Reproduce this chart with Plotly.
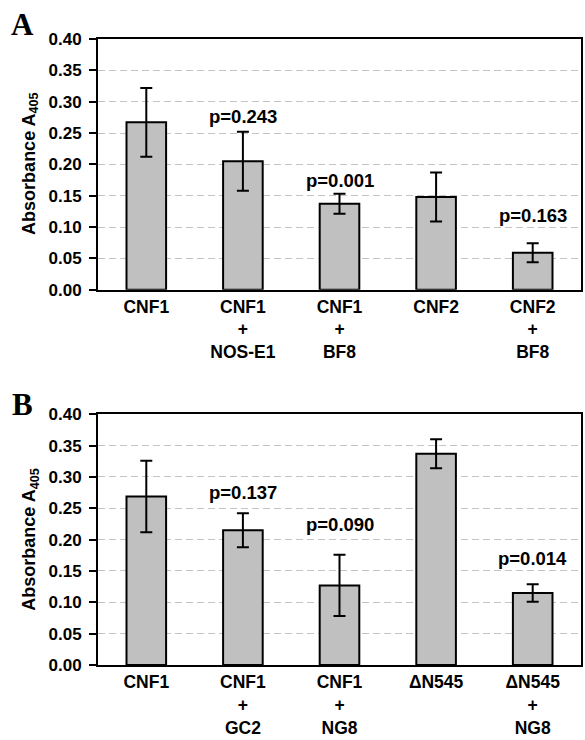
import plotly.graph_objects as go
from plotly.subplots import make_subplots

# ---- data ----
cats_a = ["CNF1", "CNF1<br>+<br>NOS-E1", "CNF1<br>+<br>BF8", "CNF2", "CNF2<br>+<br>BF8"]
vals_a = [0.267, 0.205, 0.137, 0.148, 0.059]
errs_a = [0.055, 0.047, 0.016, 0.039, 0.015]
p_idx_a = [1, 2, 4]
p_txt_a = ["p=0.243", "p=0.001", "p=0.163"]

cats_b = ["CNF1", "CNF1<br>+<br>GC2", "CNF1<br>+<br>NG8", "ΔN545", "ΔN545<br>+<br>NG8"]
vals_b = [0.269, 0.215, 0.127, 0.337, 0.115]
errs_b = [0.057, 0.027, 0.049, 0.023, 0.014]
p_idx_b = [1, 2, 4]
p_txt_b = ["p=0.137", "p=0.090", "p=0.014"]

yticks = [0.00, 0.05, 0.10, 0.15, 0.20, 0.25, 0.30, 0.35, 0.40]

# label vertical positions (layout)
p_pos_a = [0.277, 0.175, 0.118]
p_pos_b = [0.276, 0.224, 0.170]

FONT = "Liberation Sans, Arial, sans-serif"

fig = make_subplots(rows=2, cols=1, vertical_spacing=0.199)

def add_panel(row, cats, vals, errs):
    fig.add_trace(go.Bar(
        x=cats, y=vals, width=0.41,
        marker=dict(color="#c0c0c0", line=dict(color="black", width=2)),
        error_y=dict(type="data", array=errs, visible=True, color="black",
                     thickness=2, width=6),
        showlegend=False), row=row, col=1)

add_panel(1, cats_a, vals_a, errs_a)
add_panel(2, cats_b, vals_b, errs_b)

for r in (1, 2):
    fig.update_yaxes(range=[0, 0.4], tickvals=yticks, tickformat=".2f",
                     showline=True, linecolor="black", linewidth=2, mirror=True,
                     ticks="outside", ticklen=7, tickwidth=1.5, tickcolor="black",
                     ticklabelstandoff=4,
                     showgrid=True, gridcolor="#c4c4c4", griddash="7px,4px", gridwidth=1,
                     zeroline=False,
                     tickfont=dict(family=FONT, size=17, color="black", weight="bold"),
                     row=r, col=1)
    fig.update_xaxes(showline=True, linecolor="black", linewidth=2, mirror=True,
                     ticks="", showgrid=False,
                     tickfont=dict(family=FONT, size=17.5, color="black", weight="bold"),
                     row=r, col=1)

fig.update_layout(
    width=585, height=740,
    margin=dict(l=98, r=2, t=39, b=73),
    paper_bgcolor="white", plot_bgcolor="white",
    bargap=0.59,
)

anns = []
for i, t, y in zip(p_idx_a, p_txt_a, p_pos_a):
    anns.append(dict(x=cats_a[i], y=y, xref="x", yref="y", text=t, showarrow=False,
                     yanchor="middle",
                     font=dict(family=FONT, size=18.5, color="black", weight="bold")))
for i, t, y in zip(p_idx_b, p_txt_b, p_pos_b):
    anns.append(dict(x=cats_b[i], y=y, xref="x2", yref="y2", text=t, showarrow=False,
                     yanchor="middle",
                     font=dict(family=FONT, size=18.5, color="black", weight="bold")))

# y-axis titles
for yc in (1 - (164 - 39) / 628, 1 - (541 - 39) / 628):
    anns.append(dict(x=(30 - 98) / 485, y=yc, xref="paper", yref="paper",
                     text="Absorbance A<sub>405</sub>", textangle=-90, showarrow=False,
                     xanchor="center", yanchor="middle",
                     font=dict(family=FONT, size=18, color="black", weight="bold")))

# panel letters
for letter, ypix in (("A", 24), ("B", 406)):
    anns.append(dict(x=(22 - 98) / 485, y=1 - (ypix - 39) / 628, xref="paper", yref="paper",
                     text=letter, showarrow=False, xanchor="center", yanchor="middle",
                     font=dict(family="Liberation Serif, Times New Roman, serif", size=31,
                               color="black", weight="bold")))

fig.update_layout(annotations=anns)

fig.write_html("out.html")
